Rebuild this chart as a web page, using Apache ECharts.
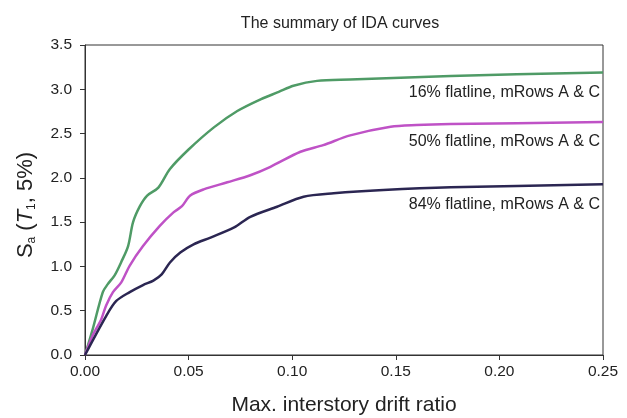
<!DOCTYPE html>
<html>
<head>
<meta charset="utf-8">
<script src="https://cdn.jsdelivr.net/npm/echarts@6/dist/echarts.min.js"></script>
<style>html,body{margin:0;padding:0;background:#fff}#c{width:627px;height:418px}</style>
</head>
<body>
<div id="c"></div>
<script>
const titleText = "The summary of IDA curves";
const xName = "Max. interstory drift ratio";
const seriesNames = ["16% flatline, mRows A & C", "50% flatline, mRows A & C", "84% flatline, mRows A & C"];
const colors = ["#4f9b66", "#bf52c6", "#2b2652"];

const greenX = [0, 0.0037, 0.0086, 0.011, 0.0143, 0.0175, 0.0208, 0.0232, 0.0265, 0.030, 0.0354, 0.041, 0.05, 0.0622, 0.0735, 0.085, 0.0935, 0.1006, 0.112, 0.128, 0.1765, 0.25];
const greenY = [0, 0.29, 0.71, 0.80, 0.90, 1.05, 1.23, 1.50, 1.68, 1.80, 1.89, 2.10, 2.32, 2.57, 2.755, 2.89, 2.97, 3.04, 3.095, 3.11, 3.15, 3.19];

const magentaX = [0, 0.0037, 0.0078, 0.0102, 0.0135, 0.0175, 0.0216, 0.028, 0.0362, 0.0427, 0.0468, 0.0508, 0.0573, 0.0687, 0.0798, 0.0895, 0.104, 0.115, 0.128, 0.1475, 0.160, 0.1765, 0.25];
const magentaY = [0, 0.22, 0.40, 0.56, 0.71, 0.82, 1.01, 1.23, 1.46, 1.61, 1.68, 1.80, 1.87, 1.95, 2.03, 2.125, 2.295, 2.37, 2.48, 2.577, 2.596, 2.607, 2.63];

const navyX = [0, 0.0102, 0.0151, 0.0216, 0.028, 0.033, 0.037, 0.041, 0.046, 0.0524, 0.0606, 0.072, 0.0798, 0.0927, 0.1055, 0.12, 0.144, 0.1765, 0.25];
const navyY = [0, 0.44, 0.61, 0.71, 0.79, 0.84, 0.91, 1.045, 1.157, 1.25, 1.326, 1.44, 1.56, 1.674, 1.787, 1.825, 1.862, 1.893, 1.927];

const xs = [greenX, magentaX, navyX];
const ys = [greenY, magentaY, navyY];

const FONT = "Liberation Sans, Arial, sans-serif";

const chart = echarts.init(document.getElementById('c'), null, {renderer: 'canvas'});
chart.setOption({
  animation: false,
  backgroundColor: '#fff',
  title: {
    text: titleText, left: 335, textAlign: 'center', top: 11,
    textStyle: {fontSize: 16, fontWeight: 'normal', color: '#222', fontFamily: FONT}
  },
  grid: {left: 85, right: 24, top: 45, bottom: 63, outerBoundsMode: 'none', containLabel: false,
         show: true, borderColor: '#333', borderWidth: 1, backgroundColor: 'transparent'},
  xAxis: {
    type: 'value', min: 0, max: 0.25, interval: 0.05,
    name: xName, nameLocation: 'middle', nameGap: 40,
    nameTextStyle: {fontSize: 21, color: '#222', fontFamily: FONT},
    axisLine: {lineStyle: {color: '#333', width: 1}},
    axisTick: {show: true, inside: false, length: 5, lineStyle: {color: '#333'}},
    axisLabel: {fontSize: 15.5, color: '#222', fontFamily: FONT, margin: 9, formatter: v => v.toFixed(2)},
    splitLine: {show: false}
  },
  yAxis: {
    type: 'value', min: 0, max: 3.5, interval: 0.5,
    name: '{s|S}{sub|a}{p| (}{it|T}{sub|1}{p|, 5%)}',
    nameLocation: 'middle', nameGap: 47, nameRotate: 90,
    nameTextStyle: {
      fontSize: 22, color: '#222', fontFamily: FONT, padding: [0, 10, 0, 0],
      rich: {
        s: {fontSize: 22, color: '#222', fontFamily: FONT},
        p: {fontSize: 22, color: '#222', fontFamily: FONT},
        it: {fontSize: 22, color: '#222', fontFamily: FONT, fontStyle: 'italic'},
        sub: {fontSize: 12, color: '#222', fontFamily: FONT, padding: [12, 0, 0, 0]}
      }
    },
    axisLine: {show: true, lineStyle: {color: '#333', width: 1}},
    axisTick: {show: true, inside: false, length: 5, lineStyle: {color: '#333'}},
    axisLabel: {fontSize: 15.5, color: '#222', fontFamily: FONT, margin: 13, formatter: v => v.toFixed(1)},
    splitLine: {show: false}
  },
  series: seriesNames.map((nm, i) => ({
    name: nm, type: 'line', smooth: 0.3, showSymbol: false,
    data: xs[i].map((x, j) => [x, ys[i][j]]),
    lineStyle: {color: colors[i], width: 2.5},
    itemStyle: {color: colors[i]},
    markPoint: {
      symbol: 'circle', symbolSize: 0, silent: true,
      data: [{coord: [xs[i][xs[i].length - 1], ys[i][ys[i].length - 1]]}],
      label: {
        show: true, formatter: nm, position: [-3, 20], align: 'right', verticalAlign: 'middle',
        fontSize: 16, color: '#222', fontFamily: FONT
      }
    }
  }))
});
</script>
</body>
</html>
